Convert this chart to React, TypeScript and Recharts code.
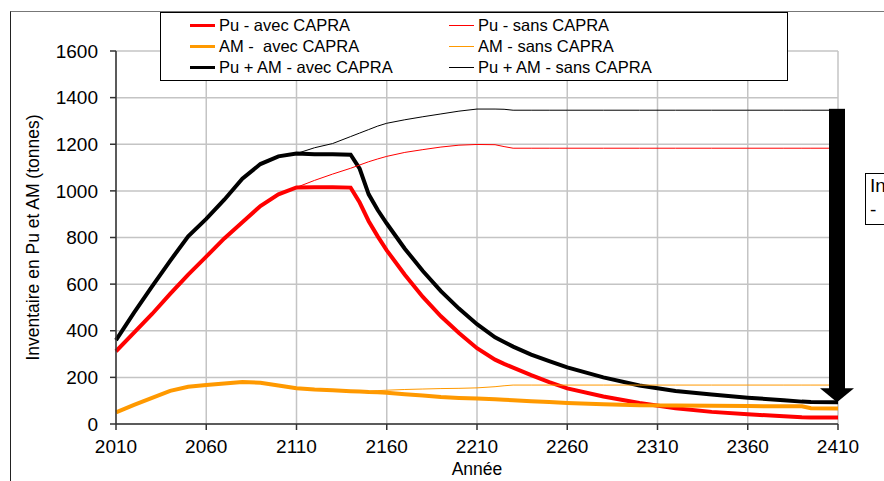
import React from 'react';
import { LineChart, Line, XAxis, YAxis, CartesianGrid, ReferenceLine } from 'recharts';

const years = [
  2010, 2020, 2030, 2040, 2050, 2060, 2070, 2080, 2090, 2100, 2110, 2120, 2130, 2140, 2145, 2150, 2155, 2160, 2170,
  2180, 2190, 2200, 2210, 2220, 2225, 2230, 2240, 2250, 2260, 2280, 2300, 2320, 2340, 2360, 2380, 2390, 2395, 2410,
];

// Pu inventory (tonnes)
const puAvec = [
  312, 392, 472, 558, 641, 718, 796, 865, 935, 985, 1015, 1016, 1016, 1014, 950, 870, 805, 745, 640,
  545, 462, 390, 325, 276, 258, 242, 210, 180, 153, 118, 90, 68, 52, 42, 33, 29, 28, 28,
];
const puSans = [
  312, 392, 472, 558, 641, 718, 796, 865, 935, 985, 1015, 1045, 1072, 1097, 1111, 1125, 1137, 1148, 1165,
  1177, 1188, 1196, 1199, 1198, 1190, 1183, 1183, 1183, 1183, 1183, 1183, 1183, 1183, 1183, 1183, 1183, 1183, 1183,
];

// minor actinides
const amAvec = [
  50, 82, 112, 142, 160, 167, 174, 180, 177, 165, 153, 148, 145, 141, 139, 137, 136, 134, 128,
  122, 116, 112, 109, 106, 104, 102, 98, 94, 90, 85, 80, 79, 78, 77, 76, 76, 68, 67,
];
const amSans = [
  50, 82, 112, 142, 160, 167, 174, 180, 177, 165, 153, 148, 145, 141, 140, 141, 143, 145, 148,
  150, 152, 153, 155, 160, 164, 167, 167, 167, 167, 167, 167, 167, 167, 167, 167, 167, 167, 167,
];

// Pu + AM
const totAvec = [
  360, 478, 590, 700, 805, 880, 962, 1052, 1115, 1148, 1160, 1157, 1157, 1155, 1095, 985, 918, 860, 752,
  656, 570, 495, 428, 372, 352, 332, 298, 270, 243, 200, 165, 142, 127, 113, 102, 96, 94, 93,
];
const totSans = [
  360, 478, 590, 700, 805, 880, 962, 1052, 1115, 1148, 1160, 1185, 1203, 1233, 1248, 1263, 1278, 1290, 1305,
  1318, 1330, 1342, 1351, 1351, 1350, 1346, 1346, 1346, 1346, 1346, 1346, 1346, 1346, 1346, 1346, 1346, 1346, 1346,
];

const xTicks = [2010, 2060, 2110, 2160, 2210, 2260, 2310, 2360, 2410];
const yTicks = [0, 200, 400, 600, 800, 1000, 1200, 1400, 1600];

const RED = '#ff0000';
const ORANGE = '#ff9900';
const BLACK = '#000000';

const SERIES = [
  { key: 'puAvec', name: 'Pu - avec CAPRA', color: RED, width: 4 },
  { key: 'amAvec', name: 'AM -  avec CAPRA', color: ORANGE, width: 4 },
  { key: 'totAvec', name: 'Pu + AM - avec CAPRA', color: BLACK, width: 4 },
  { key: 'puSans', name: 'Pu - sans CAPRA', color: RED, width: 1 },
  { key: 'amSans', name: 'AM - sans CAPRA', color: ORANGE, width: 1 },
  { key: 'totSans', name: 'Pu + AM - sans CAPRA', color: BLACK, width: 1 },
];

const data = years.map((year, i) => ({
  year,
  puAvec: puAvec[i],
  puSans: puSans[i],
  amAvec: amAvec[i],
  amSans: amSans[i],
  totAvec: totAvec[i],
  totSans: totSans[i],
}));

const FONT = '"Liberation Sans", Arial, sans-serif';

// thick downward arrow between the two Pu+AM end values
const ArrowShape = (props: any) => {
  const { x1, y1, y2 } = props;
  const cx = x1 - 1;
  const headH = 14;
  const top = Math.min(y1, y2);
  const tip = Math.max(y1, y2);
  return (
    <g>
      <rect x={cx - 8} y={top} width={16} height={tip - headH - top + 1} fill="#000" />
      <polygon points={`${cx - 17},${tip - headH} ${cx + 17},${tip - headH} ${cx},${tip}`} fill="#000" />
    </g>
  );
};

const LegendBox = () => {
  const cols = [SERIES.slice(0, 3), SERIES.slice(3)];
  return (
    <div
      style={{
        position: 'absolute',
        left: 160,
        top: 12,
        width: 626,
        height: 67,
        border: '1px solid #000',
        background: '#fff',
        fontFamily: FONT,
        fontSize: 16.5,
        color: '#000',
      }}
    >
      {cols.map((col, c) => (
        <div key={c} style={{ position: 'absolute', left: c === 0 ? 29 : 288, top: 2 }}>
          {col.map((s) => (
            <div key={s.key} style={{ display: 'flex', alignItems: 'center', height: 21, whiteSpace: 'pre' }}>
              <div style={{ width: 25, height: s.width > 1 ? 3.5 : 1, background: s.color, marginRight: 4 }} />
              <span>{s.name}</span>
            </div>
          ))}
        </div>
      ))}
    </div>
  );
};

export default function App() {
  return (
    <div style={{ position: 'absolute', left: 0, top: 0, width: 884, height: 481, overflow: 'hidden', background: '#fff' }}>
      <div
        style={{
          position: 'absolute',
          left: 10,
          top: 11,
          width: 900,
          height: 500,
          borderLeft: '1.5px solid #222',
          borderTop: '1.5px solid #777',
        }}
      />
      <LineChart width={884} height={481} data={data} margin={{ top: 51, right: 46, left: 0, bottom: 0 }}>
        <CartesianGrid stroke="#c4c4c4" strokeWidth={1.5} />
        <XAxis
          dataKey="year"
          type="number"
          domain={[2010, 2410]}
          ticks={xTicks}
          height={57}
          tickSize={6}
          tickMargin={10}
          stroke="#333"
          strokeWidth={1.5}
          tick={{ fill: '#000', fontSize: 19, fontFamily: FONT }}
          label={{
            content: (p: any) => {
              const vb = p.viewBox;
              return (
                <text x={vb.x + vb.width / 2} y={vb.y + 51} textAnchor="middle" fontSize={17.5} fontFamily={FONT} fill="#000">
                  Année
                </text>
              );
            },
          }}
        />
        <YAxis
          type="number"
          domain={[0, 1600]}
          ticks={yTicks}
          width={116}
          tickSize={6}
          tickMargin={12}
          stroke="#333"
          strokeWidth={1.5}
          tick={{ fill: '#000', fontSize: 19, fontFamily: FONT }}
          label={{
            content: (p: any) => {
              const vb = p.viewBox;
              const cx = vb.x + 33;
              const cy = vb.y + vb.height / 2;
              return (
                <text
                  x={cx}
                  y={cy}
                  transform={`rotate(-90 ${cx} ${cy})`}
                  textAnchor="middle"
                  dominantBaseline="central"
                  fontSize={17.5}
                  fontFamily={FONT}
                  fill="#000"
                >
                  Inventaire en Pu et AM (tonnes)
                </text>
              );
            },
          }}
        />
        {SERIES.map((s) => (
          <Line
            key={s.key}
            type="linear"
            dataKey={s.key}
            name={s.name}
            stroke={s.color}
            strokeWidth={s.width}
            dot={false}
            activeDot={false}
            isAnimationActive={false}
          />
        ))}
        <ReferenceLine
          segment={[
            { x: 2410, y: totSans[totSans.length - 1] + 6 },
            { x: 2410, y: totAvec[totAvec.length - 1] },
          ]}
          ifOverflow="visible"
          shape={ArrowShape}
        />
      </LineChart>
      <LegendBox />
      <div
        style={{
          position: 'absolute',
          left: 865,
          top: 173,
          width: 60,
          height: 50,
          border: '1px solid #000',
          background: '#fff',
          fontFamily: FONT,
          fontSize: 19,
          lineHeight: '24px',
          paddingLeft: 4,
          color: '#000',
        }}
      >
        <div>In</div>
        <div>-</div>
      </div>
    </div>
  );
}
